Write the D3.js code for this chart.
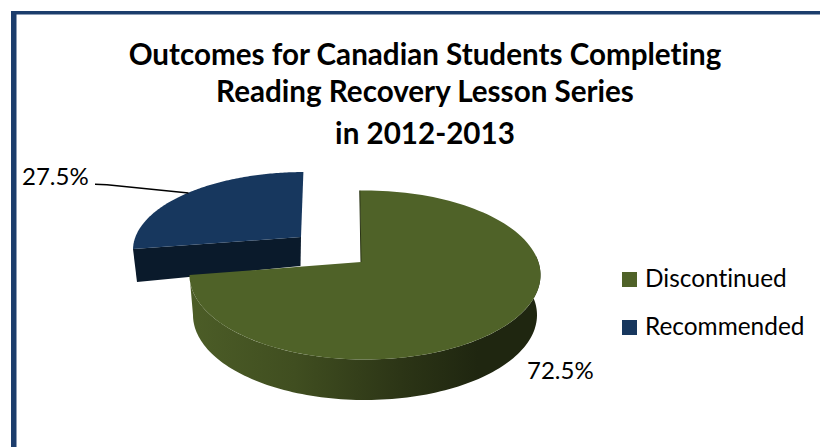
<!DOCTYPE html>
<html>
<head>
<meta charset="utf-8">
<script src="https://cdn.jsdelivr.net/npm/d3@7"></script>
<style>
  html, body { margin: 0; padding: 0; background: #fff; }
  svg { display: block; }
  text { font-family: Lato, "Open Sans", sans-serif; fill: #000; font-variant-ligatures: none; }
</style>
</head>
<body>
<svg id="chart" width="820" height="447"></svg>
<script>
const categories = ["Discontinued", "Recommended"];
const shares = [72.5, 27.5];
const shareLabels = ["72.5%", "27.5%"];
const titleLines = [
  "Outcomes for Canadian Students Completing",
  "Reading Recovery Lesson Series",
  "in 2012-2013"
];
const topColors = ["#4f6228", "#17375e"];

const svg = d3.select("#chart");

// Frame: only the top and left rules are inside the page
svg.append("rect").attr("x", 11).attr("y", 11).attr("width", 5.5).attr("height", 436).attr("fill", "#1c3d6c");
svg.append("rect").attr("x", 11).attr("y", 11).attr("width", 809).attr("height", 3.5).attr("fill", "#1c3d6c");

// Title
svg.append("g").selectAll("text").data(titleLines).join("text")
  .attr("x", 425)
  .attr("y", (d, i) => [65, 102, 144][i])
  .attr("text-anchor", "middle")
  .attr("font-size", 29.6)
  .attr("font-weight", 700)
  .text(d => d);

// Slice angles, clockwise from twelve o'clock
const pie = d3.pie().sort(null).startAngle(0).endAngle(2 * Math.PI);
const slices = pie(shares);

// Rim geometry of each exploded slice: the top ellipse, the lower ellipse
// and the hub position on both. The hub sits off the ellipse centre because
// of the viewing perspective.
const rims = [
  { top: { cx: 365, cy: 275, rx: 175.5, ry: 84.5 }, bottom: { cx: 365, cy: 315, rx: 172, ry: 85 },
    hubTop: [361, 262], hubBottom: [361, 300], tilt: [-0.032, 0.153] },
  { top: { cx: 305, cy: 250, rx: 172, ry: 78 }, bottom: { cx: 305, cy: 283, rx: 168, ry: 78 },
    hubTop: [301, 237], hubBottom: [300.5, 266], tilt: [-0.01, 0.167] }
];

// Perspective map of the unit disc that moves its centre to the tilt point
function rimPoint(angle, ellipse, tilt) {
  const u = Math.sin(angle), v = Math.cos(angle);
  const [px, py] = tilt;
  const pp = px * px + py * py;
  const dot = px * u + py * v;
  const parX = (dot / pp) * px, parY = (dot / pp) * py;
  const s = Math.sqrt(1 - pp);
  const w = 1 + dot;
  const zx = (px + parX + s * (u - parX)) / w;
  const zy = (py + parY + s * (v - parY)) / w;
  return [ellipse.cx + ellipse.rx * zx, ellipse.cy - ellipse.ry * zy];
}

function arcPoints(a0, a1, ellipse, tilt) {
  const step = d3.scaleLinear().domain([0, 120]).range([a0, a1]);
  return d3.range(121).map(i => rimPoint(step(i), ellipse, tilt));
}

const line = d3.line();
const closed = pts => line(pts) + "Z";
const rad = d => d * Math.PI / 180;

// Shading across the curved wall of the large slice
const defs = svg.append("defs");
const wallScale = d3.scaleLinear().domain([0, 1]).range([189, 541]);
const wallGrad = defs.append("linearGradient")
  .attr("id", "wall")
  .attr("gradientUnits", "userSpaceOnUse")
  .attr("x1", wallScale(0)).attr("x2", wallScale(1))
  .attr("y1", 0).attr("y2", 0);
[[0, "#4c5d27"], [0.3, "#404e20"], [0.6, "#2c3516"], [0.82, "#1f2610"], [1, "#1f2610"]]
  .forEach(([o, c]) => wallGrad.append("stop").attr("offset", o).attr("stop-color", c));

const pieGroup = svg.append("g");

// Small slice: its cut wall faces the viewer, drawn first so the large slice overlaps it
(function () {
  const sl = slices[1], r = rims[1];
  const cornerTop = rimPoint(sl.startAngle, r.top, r.tilt);
  const cornerBottom = rimPoint(sl.startAngle, r.bottom, r.tilt);
  pieGroup.append("path")
    .attr("d", closed([cornerTop, r.hubTop, r.hubBottom, cornerBottom]))
    .attr("fill", "#0a1a2b");
  pieGroup.append("path")
    .attr("d", closed([r.hubTop, ...arcPoints(sl.startAngle, sl.endAngle, r.top, r.tilt)]))
    .attr("fill", topColors[1]);
})();

// Large slice: curved wall, then top face
(function () {
  const sl = slices[0], r = rims[0];
  const wallStart = rad(86);
  const upper = arcPoints(wallStart, sl.endAngle, r.top, r.tilt);
  const lower = arcPoints(wallStart, sl.endAngle, r.bottom, r.tilt);
  pieGroup.append("path")
    .attr("d", closed([...upper, ...lower.reverse()]))
    .attr("fill", "url(#wall)");
  pieGroup.append("path")
    .attr("d", closed([r.hubTop, ...arcPoints(sl.startAngle, sl.endAngle, r.top, r.tilt)]))
    .attr("fill", topColors[0]);
  pieGroup.append("path")
    .attr("d", line([r.hubTop, rimPoint(sl.startAngle, r.top, r.tilt)]))
    .attr("stroke", "#2b3416")
    .attr("stroke-width", 1)
    .attr("fill", "none");
})();

// Value labels and the leader line of the small slice
svg.append("path")
  .attr("d", line([[95, 184.3], [107, 184.7], [188.5, 193]]))
  .attr("fill", "none")
  .attr("stroke", "#000")
  .attr("stroke-width", 1.4);

const labelPos = [[527, 379], [22, 185]];
svg.append("g").selectAll("text").data(shareLabels).join("text")
  .attr("x", (d, i) => labelPos[i][0])
  .attr("y", (d, i) => labelPos[i][1])
  .attr("font-size", 24)
  .text(d => d);

// Legend
const legendY = d3.scalePoint().domain(categories).range([272, 320]);
const legend = svg.append("g").selectAll("g").data(categories).join("g")
  .attr("transform", d => `translate(622,${legendY(d)})`);
legend.append("rect")
  .attr("width", 15).attr("height", 15)
  .attr("fill", (d, i) => topColors[i]);
legend.append("text")
  .attr("x", 23).attr("y", 14.5)
  .attr("font-size", 24.4)
  .text(d => d);
</script>
</body>
</html>
